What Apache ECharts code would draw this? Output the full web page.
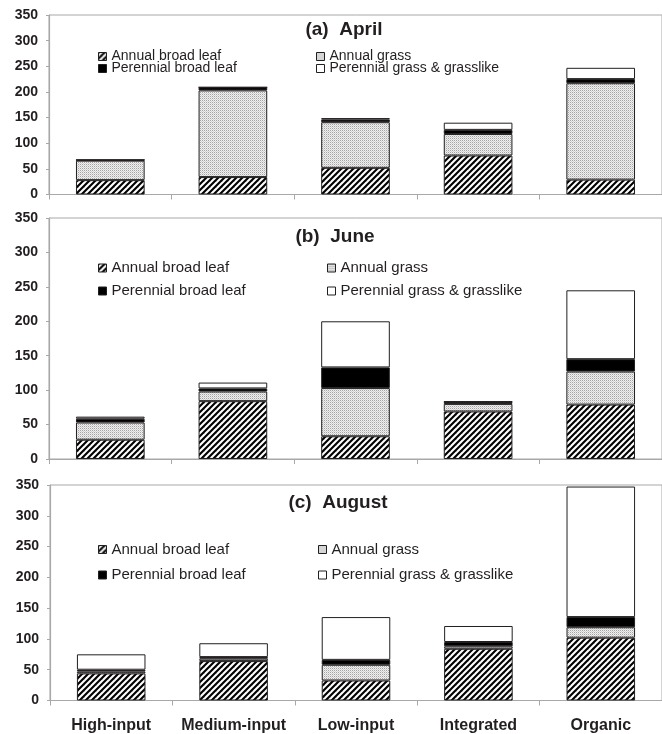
<!DOCTYPE html>
<html>
<head>
<meta charset="utf-8">
<title>Weed biomass by cropping system</title>
<script src="https://cdn.jsdelivr.net/npm/echarts@6/dist/echarts.min.js"></script>
<style>
  html, body { margin: 0; padding: 0; background: #ffffff; }
  #chart { width: 662px; height: 734px; }
</style>
</head>
<body>
<div id="chart"></div>
<script>
// Cropping systems on the shared x axis
const categories = ['High-input', 'Medium-input', 'Low-input', 'Integrated', 'Organic'];
const weedGroups = ['Annual broad leaf', 'Annual grass', 'Perennial broad leaf', 'Perennial grass & grasslike'];
const yTicks = [0, 50, 100, 150, 200, 250, 300, 350];

// (a) April
const aprilBroadLeaf = [28, 34, 52, 76, 29];
const aprilGrass = [38, 169, 89, 42, 188];
const aprilPerBroadLeaf = [1.5, 6, 5, 8, 8];
const aprilPerGrass = [0, 0, 3, 14, 22];

// (b) June
const juneBroadLeaf = [28, 84, 33, 69, 79];
const juneGrass = [25, 14, 70, 11, 48];
const junePerBroadLeaf = [5.5, 4.5, 30, 3, 18];
const junePerGrass = [3, 8.5, 67, 0.5, 100];

// (c) August
const augBroadLeaf = [44, 64, 32.5, 84, 102];
const augGrass = [3, 4, 25.5, 4, 17];
const augPerBroadLeaf = [3, 2.5, 8, 7, 16.5];
const augPerGrass = [25, 22.5, 69.5, 26, 212];

const panelTitles = ['(a)  April', '(b)  June', '(c)  August'];
const panelValues = [
  [aprilBroadLeaf, aprilGrass, aprilPerBroadLeaf, aprilPerGrass],
  [juneBroadLeaf, juneGrass, junePerBroadLeaf, junePerGrass],
  [augBroadLeaf, augGrass, augPerBroadLeaf, augPerGrass]
];

// ---- layout of the three stacked panels ----
const layout = [
  { grid: { left: 49, top: 15, width: 614, height: 179.5 }, title: [344, 30], legendRows: [56.5, 68.5], legendCols: [98, 316], legendFont: 14 },
  { grid: { left: 49, top: 218, width: 619, height: 241 }, title: [335, 237], legendRows: [268, 291], legendCols: [98, 327], legendFont: 15 },
  { grid: { left: 50, top: 485, width: 619, height: 215.5 }, title: [338, 503], legendRows: [549.5, 575], legendCols: [98, 318], legendFont: 15 }
];

const INK = '#231f20';
const AXIS_GREY = '#a8a8a8';
const FONT = '"Liberation Sans", Arial, sans-serif';

// ---- fill patterns ----
function hatchPattern() {
  const s = 6;
  const c = document.createElement('canvas');
  c.width = s; c.height = s;
  const g = c.getContext('2d');
  g.fillStyle = '#ffffff';
  g.fillRect(0, 0, s, s);
  g.strokeStyle = '#000000';
  g.lineWidth = 2.1;
  g.lineCap = 'square';
  for (const o of [-s, 0, s]) {
    g.beginPath();
    g.moveTo(o, s);
    g.lineTo(o + s, 0);
    g.stroke();
  }
  return c;
}
function stipplePattern() {
  const c = document.createElement('canvas');
  c.width = 2; c.height = 2;
  const g = c.getContext('2d');
  g.fillStyle = '#efefef';
  g.fillRect(0, 0, 2, 2);
  g.fillStyle = '#a4a4a4';
  g.fillRect(0, 0, 1, 1);
  g.fillStyle = '#d2d2d2';
  g.fillRect(1, 1, 1, 1);
  return c;
}
const fills = [
  { image: hatchPattern(), repeat: 'repeat' },
  { image: stipplePattern(), repeat: 'repeat' },
  '#000000',
  '#ffffff'
];

const grids = [], xAxes = [], yAxes = [], series = [], legends = [], graphics = [];

layout.forEach((p, i) => {
  grids.push(Object.assign({ show: true, borderColor: AXIS_GREY, borderWidth: 1, backgroundColor: 'transparent' }, p.grid));

  xAxes.push({
    type: 'category',
    gridIndex: i,
    data: categories,
    axisLine: { show: true, lineStyle: { color: AXIS_GREY, width: 1.2 } },
    axisTick: { show: true, inside: false, length: 5, interval: 0, lineStyle: { color: AXIS_GREY } },
    axisLabel: {
      show: i === 2,
      interval: 0,
      margin: 17,
      color: INK,
      fontFamily: FONT,
      fontWeight: 'bold',
      fontSize: 16
    }
  });

  yAxes.push({
    type: 'value',
    gridIndex: i,
    min: yTicks[0],
    max: yTicks[yTicks.length - 1],
    interval: yTicks[1] - yTicks[0],
    splitLine: { show: false },
    axisLine: { show: true, lineStyle: { color: AXIS_GREY, width: 1.2 } },
    axisTick: { show: true, length: 3, lineStyle: { color: AXIS_GREY } },
    axisLabel: {
      margin: 11,
      color: INK,
      fontFamily: FONT,
      fontWeight: 'bold',
      fontSize: 14
    }
  });

  weedGroups.forEach((name, k) => {
    series.push({
      name: name,
      type: 'bar',
      xAxisIndex: i,
      yAxisIndex: i,
      stack: 'panel' + i,
      barWidth: '56%',
      data: panelValues[i][k],
      itemStyle: { color: fills[k], borderColor: INK, borderWidth: 1 },
      emphasis: { disabled: true },
      animation: false
    });
    legends.push({
      data: [name],
      left: p.legendCols[k % 2],
      top: p.legendRows[Math.floor(k / 2)] - p.legendFont / 2,
      padding: 0,
      icon: 'rect',
      itemWidth: 8,
      itemHeight: 8,
      selectedMode: false,
      itemStyle: { borderColor: INK, borderWidth: 1 },
      textStyle: { color: INK, fontFamily: FONT, fontSize: p.legendFont, lineHeight: p.legendFont }
    });
  });

  graphics.push({
    type: 'text',
    x: p.title[0],
    y: p.title[1],
    style: {
      text: panelTitles[i],
      fill: INK,
      font: 'bold 19px ' + FONT,
      textAlign: 'center',
      textVerticalAlign: 'middle'
    }
  });
});

const chart = echarts.init(document.getElementById('chart'), null, { renderer: 'canvas' });
chart.setOption({
  animation: false,
  backgroundColor: '#ffffff',
  grid: grids,
  xAxis: xAxes,
  yAxis: yAxes,
  legend: legends,
  graphic: graphics,
  series: series
});
</script>
</body>
</html>
